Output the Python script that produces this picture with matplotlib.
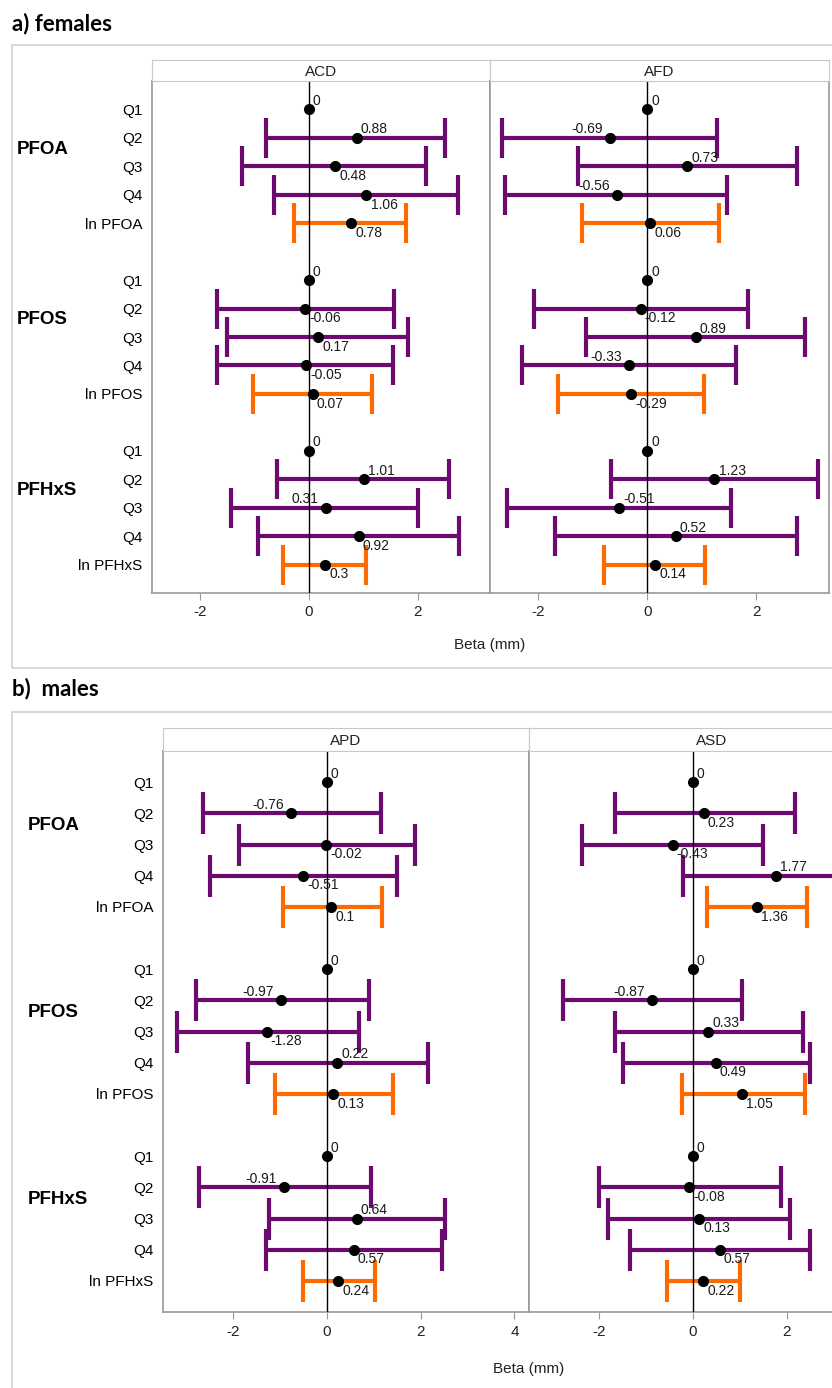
import numpy as np
import matplotlib
matplotlib.use("Agg")
import matplotlib.pyplot as plt
from matplotlib.patches import Rectangle
from matplotlib.transforms import blended_transform_factory

plt.rcParams['font.family'] = ['Liberation Sans', 'DejaVu Sans']

nan = np.nan

# ---------- data ----------
row_labels = ['Q1', 'Q2', 'Q3', 'Q4', 'ln PFOA',
              'Q1', 'Q2', 'Q3', 'Q4', 'ln PFOS',
              'Q1', 'Q2', 'Q3', 'Q4', 'ln PFHxS']
groups = ['PFOA', 'PFOS', 'PFHxS']

# females
acd_est = [0, 0.88, 0.48, 1.06, 0.78, 0, -0.06, 0.17, -0.05, 0.07, 0, 1.01, 0.31, 0.92, 0.30]
acd_lo = [nan, -0.79, -1.22, -0.64, -0.27, nan, -1.68, -1.51, -1.68, -1.03, nan, -0.58, -1.42, -0.94, -0.48]
acd_hi = [nan, 2.50, 2.15, 2.74, 1.78, nan, 1.57, 1.83, 1.55, 1.17, nan, 2.57, 2.01, 2.76, 1.05]

afd_est = [0, -0.69, 0.73, -0.56, 0.06, 0, -0.12, 0.89, -0.33, -0.29, 0, 1.23, -0.51, 0.52, 0.14]
afd_lo = [nan, -2.66, -1.26, -2.61, -1.20, nan, -2.08, -1.12, -2.29, -1.63, nan, -0.66, -2.56, -1.69, -0.79]
afd_hi = [nan, 1.28, 2.74, 1.46, 1.32, nan, 1.85, 2.89, 1.63, 1.04, nan, 3.12, 1.54, 2.74, 1.06]

# males
apd_est = [0, -0.76, -0.02, -0.51, 0.10, 0, -0.97, -1.28, 0.22, 0.13, 0, -0.91, 0.64, 0.57, 0.24]
apd_lo = [nan, -2.64, -1.88, -2.49, -0.93, nan, -2.78, -3.20, -1.68, -1.11, nan, -2.73, -1.23, -1.29, -0.51]
apd_hi = [nan, 1.15, 1.89, 1.50, 1.18, nan, 0.90, 0.69, 2.16, 1.41, nan, 0.95, 2.53, 2.46, 1.03]

asd_est = [0, 0.23, -0.43, 1.77, 1.36, 0, -0.87, 0.33, 0.49, 1.05, 0, -0.08, 0.13, 0.57, 0.22]
asd_lo = [nan, -1.66, -2.35, -0.21, 0.30, nan, -2.77, -1.66, -1.48, -0.24, nan, -1.99, -1.80, -1.33, -0.54]
asd_hi = [nan, 2.17, 1.50, 3.75, 2.44, nan, 1.06, 2.35, 2.50, 2.40, nan, 1.87, 2.07, 2.50, 1.00]

# where each value label sits next to its point
acd_pos = ['ur', 'ur', 'lr', 'lr', 'lr', 'ur', 'lr', 'lr', 'lr', 'lr', 'ur', 'ur', 'ul', 'lr', 'lr']
afd_pos = ['ur', 'ul', 'ur', 'ul', 'lr', 'ur', 'lr', 'ur', 'ul', 'lr', 'ur', 'ur', 'ur', 'ur', 'lr']
apd_pos = ['ur', 'ul', 'lr', 'lr', 'lr', 'ur', 'ul', 'lr', 'ur', 'lr', 'ur', 'ul', 'ur', 'lr', 'lr']
asd_pos = ['ur', 'lr', 'lr', 'ur', 'lr', 'ur', 'ul', 'ur', 'lr', 'lr', 'ur', 'lr', 'lr', 'lr', 'lr']

PURPLE = '#6c0a70'
ORANGE = '#ff6a00'
W, H = 832, 1388


def rect(x0, y0, x1, y1):
    return [x0 / W, 1 - y1 / H, (x1 - x0) / W, (y1 - y0) / H]


def draw_facet(fig, box, head, title, est, lo, hi, pos, xlim, ticks, capsize, first):
    ax = fig.add_axes(rect(*box))
    rows = [g * 6 + r for g in range(3) for r in range(5)]
    ax.axvline(0, color='black', lw=1, zorder=3)
    for i, y in enumerate(rows):
        col = ORANGE if row_labels[i].startswith('ln') else PURPLE
        if not np.isnan(lo[i]):
            ax.errorbar(est[i], y, xerr=[[est[i] - lo[i]], [hi[i] - est[i]]],
                        fmt='none', ecolor=col, elinewidth=3, capsize=capsize,
                        capthick=3, zorder=2)
        ax.plot(est[i], y, 'o', color='black', ms=7, zorder=4)
        p = pos[i]
        if p == 'ur':
            off, ha, va = (3, 1), 'left', 'bottom'
        elif p == 'lr':
            off, ha, va = (3, -2), 'left', 'top'
        else:
            off, ha, va = (-5, 1), 'right', 'bottom'
        ax.annotate(f'{est[i]:g}', (est[i], y), xytext=off, textcoords='offset points',
                    ha=ha, va=va, fontsize=10, color='#1a1a1a', zorder=5)
    ax.set_xlim(*xlim)
    ax.set_ylim(17, -1)
    ax.set_xticks(ticks)
    ax.set_xticklabels([str(t) if t >= 0 else '-' + str(-t) for t in ticks])
    ax.set_yticks(rows)
    if first:
        ax.set_yticklabels(row_labels, fontsize=11)
    else:
        ax.set_yticklabels([])
    ax.tick_params(axis='y', length=0, pad=7)
    ax.tick_params(axis='x', length=5, color='#999999', labelsize=11, pad=4,
                   labelcolor='#222222')
    for s in ax.spines.values():
        s.set_color('#9a9a9a')
        s.set_linewidth(1.2)

    hx = fig.add_axes(rect(box[0], head, box[2], box[1]))
    hx.set_xticks([])
    hx.set_yticks([])
    for s in hx.spines.values():
        s.set_color('#c8c8c8')
    hx.text(0.5, 0.45, title, ha='center', va='center', fontsize=11,
            transform=hx.transAxes, color='#222222')

    if first:
        tr = blended_transform_factory(fig.transFigure, ax.transData)
        for g, name in enumerate(groups):
            ax.text((box[0] - 135) / W, g * 6 + 1.4, name, transform=tr,
                    fontsize=13.5, fontweight='bold', ha='left', va='center')
    return ax


fig = plt.figure(figsize=(W / 100, H / 100), dpi=100)

# outer frames
for y0, y1 in [(45, 668), (712, 1500)]:
    fig.add_artist(Rectangle((12 / W, 1 - y1 / H), 1.2, (y1 - y0) / H,
                             transform=fig.transFigure, fill=False,
                             edgecolor='#cfcfcf', lw=1.2, clip_on=False))

fig.text(12 / W, 1 - 24 / H, 'a) females', fontsize=16, fontweight='bold',
         family=['Lato', 'DejaVu Sans'], va='center', ha='left')
fig.text(12 / W, 1 - 689 / H, 'b)  males', fontsize=16, fontweight='bold',
         family=['Lato', 'DejaVu Sans'], va='center', ha='left')

xl_top = (-2.88, 3.33)
draw_facet(fig, (152, 81, 490, 593), 60, 'ACD', acd_est, acd_lo, acd_hi, acd_pos,
           xl_top, [-2, 0, 2], 14.4, True)
draw_facet(fig, (490, 81, 829, 593), 60, 'AFD', afd_est, afd_lo, afd_hi, afd_pos,
           xl_top, [-2, 0, 2], 14.4, False)
fig.text(490 / W, 1 - 645 / H, 'Beta (mm)', ha='center', va='center', fontsize=11, color='#222222')

xl_bot = (-3.49, 4.31)
draw_facet(fig, (163, 751, 529, 1312), 728, 'APD', apd_est, apd_lo, apd_hi, apd_pos,
           xl_bot, [-2, 0, 2, 4], 15, True)
draw_facet(fig, (529, 751, 895, 1312), 728, 'ASD', asd_est, asd_lo, asd_hi, asd_pos,
           xl_bot, [-2, 0, 2], 15, False)
fig.text(529 / W, 1 - 1369 / H, 'Beta (mm)', ha='center', va='center', fontsize=11, color='#222222')

fig.savefig('out.png', dpi=100)
